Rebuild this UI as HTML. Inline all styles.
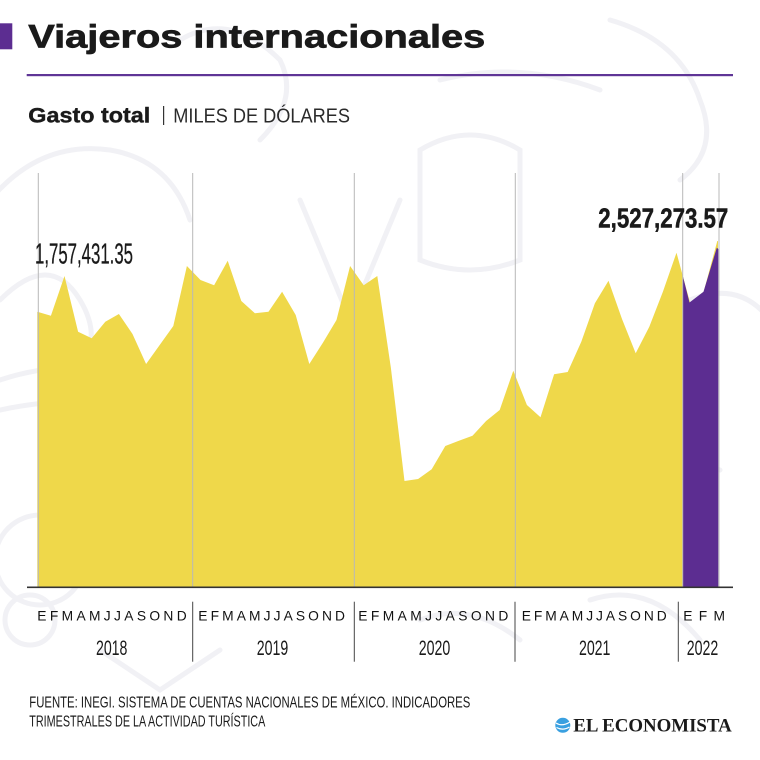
<!DOCTYPE html>
<html><head><meta charset="utf-8">
<style>
html,body{margin:0;padding:0;background:#fff;}
svg{display:block;}
</style></head>
<body>
<svg width="760" height="760" viewBox="0 0 760 760" xmlns="http://www.w3.org/2000/svg">
<rect width="760" height="760" fill="#ffffff"/>
<!-- faint background doodles -->
<g fill="none" stroke="#f1f1f5" stroke-width="5" stroke-linecap="round">
<path d="M-10 200 Q40 140 110 150 Q170 160 190 220"/>
<path d="M0 380 Q60 360 120 372 Q180 384 230 370"/>
<path d="M0 410 Q70 395 140 405"/>
<circle cx="40" cy="560" r="45"/>
<circle cx="30" cy="620" r="25"/>
<path d="M180 40 Q230 10 280 60 Q300 100 260 140"/>
<path d="M300 200 L350 320 L400 200"/>
<path d="M420 150 Q470 120 520 150 L520 260 Q470 280 420 260 Z"/>
<path d="M440 80 Q520 60 600 90"/>
<path d="M610 20 Q680 40 700 100 Q720 150 680 180"/>
<path d="M370 500 Q420 480 470 500"/>
<path d="M590 600 Q650 580 700 640"/>
<path d="M420 620 Q470 600 520 640"/>
<path d="M100 650 L160 690 L220 650"/>
<path d="M600 470 Q650 440 720 470"/>
<path d="M0 300 Q50 250 80 300 Q110 350 60 380"/>
<path d="M230 480 Q280 440 330 480"/>
<path d="M690 300 Q740 280 770 320"/>
</g>

<!-- title -->
<rect x="0" y="23.3" width="12.3" height="26" fill="#5c2d91"/>
<text x="28.3" y="47.3" font-family="Liberation Sans, sans-serif" font-weight="bold" font-size="32.5" fill="#1a1a1a" stroke="#1a1a1a" stroke-width="0.7" textLength="457" lengthAdjust="spacingAndGlyphs">Viajeros internacionales</text>
<rect x="26.7" y="74" width="706.3" height="2.2" fill="#5f3596"/>

<!-- subtitle -->
<text x="28.3" y="122.7" font-family="Liberation Sans, sans-serif" font-weight="bold" font-size="21" fill="#1a1a1a" stroke="#1a1a1a" stroke-width="0.4" textLength="122" lengthAdjust="spacingAndGlyphs">Gasto total</text>
<rect x="163" y="106" width="1.2" height="19" fill="#333"/>
<text x="173.3" y="122.7" font-family="Liberation Sans, sans-serif" font-size="20.5" fill="#2a2a2a" textLength="176.7" lengthAdjust="spacingAndGlyphs">MILES DE DÓLARES</text>

<!-- yellow area -->
<polygon fill="#efd84a" points="
37.3,587.3
37.3,311.7 50.9,315.7 64.5,276 78.1,331.7 91.7,338.3 105.3,321.7 118.9,314 132.5,334 146.1,364 159.7,345 173.3,326 186.9,266
200.5,280 214.1,285.3 227.7,260.7 241.3,301 254.9,313.3 268.5,311.7 282.1,291.7 295.7,315 309.3,364 322.9,342.7 336.5,320 350.1,266
363.7,285.3 377.3,276 390.9,368 404.5,481 418.1,479 431.7,469.3 445.3,446 458.9,440.7 472.5,435.7 486.1,421 499.7,410 513.3,370.7
526.9,405 540.5,417.3 554.1,374.3 567.7,372 581.3,341.7 594.9,303.3 608.5,280.7 622.1,319.3 635.7,353.3 649.3,326.7 662.9,291.7 676.5,252.7
690.1,302.7 703.7,291.7 717.3,241 718,241 718,587.3"/>

<!-- purple area -->
<polygon fill="#5c2d91" points="682.7,587.3 682.7,275.5 689.5,302.5 703.5,291.7 716.8,247.7 718.3,249 718.3,587.3"/>

<!-- vertical gridlines -->
<g stroke="#b8b8b8" stroke-width="1">
<line x1="38.3" y1="173" x2="38.3" y2="587"/>
<line x1="192.7" y1="173" x2="192.7" y2="587"/>
<line x1="354.3" y1="173" x2="354.3" y2="587"/>
<line x1="515.3" y1="173" x2="515.3" y2="587"/>
<line x1="682.7" y1="173" x2="682.7" y2="587"/>
<line x1="719" y1="173" x2="719" y2="587"/>
</g>

<!-- axis line -->
<rect x="27" y="586.5" width="706" height="1.6" fill="#333"/>

<!-- value labels -->
<text x="35" y="263.3" font-family="Liberation Sans, sans-serif" font-size="29" fill="#1a1a1a" stroke="#1a1a1a" stroke-width="0.3" textLength="98" lengthAdjust="spacingAndGlyphs">1,757,431.35</text>
<text x="598.3" y="227.7" font-family="Liberation Sans, sans-serif" font-weight="bold" font-size="27.5" fill="#1a1a1a" stroke="#1a1a1a" stroke-width="0.5" textLength="130" lengthAdjust="spacingAndGlyphs">2,527,273.57</text>

<!-- month letters -->
<g font-family="Liberation Sans, sans-serif" font-size="13.8" fill="#111">
<text x="37.3" y="620.7" textLength="149.4" lengthAdjust="spacing">EFMAMJJASOND</text>
<text x="198.3" y="620.7" textLength="146.7" lengthAdjust="spacing">EFMAMJJASOND</text>
<text x="358.3" y="620.7" textLength="150" lengthAdjust="spacing">EFMAMJJASOND</text>
<text x="521.7" y="620.7" textLength="145" lengthAdjust="spacing">EFMAMJJASOND</text>
<text x="683.3" y="620.7" textLength="41.7" lengthAdjust="spacing">E F M</text>
</g>

<!-- years -->
<g font-family="Liberation Sans, sans-serif" font-size="21.5" fill="#1a1a1a" text-anchor="middle">
<text x="111.7" y="655" textLength="31.5" lengthAdjust="spacingAndGlyphs">2018</text>
<text x="272.5" y="655" textLength="31.5" lengthAdjust="spacingAndGlyphs">2019</text>
<text x="434.5" y="655" textLength="31.5" lengthAdjust="spacingAndGlyphs">2020</text>
<text x="594.7" y="655" textLength="31.5" lengthAdjust="spacingAndGlyphs">2021</text>
<text x="702.5" y="655" textLength="31.5" lengthAdjust="spacingAndGlyphs">2022</text>
</g>

<!-- axis separators -->
<g stroke="#444" stroke-width="1">
<line x1="192.7" y1="601.7" x2="192.7" y2="661.7"/>
<line x1="354.3" y1="601.7" x2="354.3" y2="661.7"/>
<line x1="515" y1="601.7" x2="515" y2="661.7"/>
<line x1="678.3" y1="601.7" x2="678.3" y2="661.7"/>
</g>

<!-- footer -->
<g font-family="Liberation Sans, sans-serif" font-size="15.5" fill="#1a1a1a">
<text x="29.3" y="707.7" textLength="441" lengthAdjust="spacingAndGlyphs">FUENTE: INEGI. SISTEMA DE CUENTAS NACIONALES DE MÉXICO. INDICADORES</text>
<text x="29.3" y="726.7" textLength="236" lengthAdjust="spacingAndGlyphs">TRIMESTRALES DE LA ACTIVIDAD TURÍSTICA</text>
</g>

<!-- logo -->
<circle cx="562.8" cy="725.3" r="7.5" fill="#3aa0e0"/>
<path d="M556 723 Q562 727 570 722" stroke="#fff" stroke-width="1.2" fill="none"/>
<path d="M556.5 727.5 Q563 731 569.5 727" stroke="#fff" stroke-width="1.2" fill="none"/>
<text x="573.3" y="731.7" font-family="Liberation Serif, serif" font-weight="bold" font-size="18.5" fill="#1a1a1a" textLength="158.4" lengthAdjust="spacingAndGlyphs">EL ECONOMISTA</text>
</svg>
</body></html>
